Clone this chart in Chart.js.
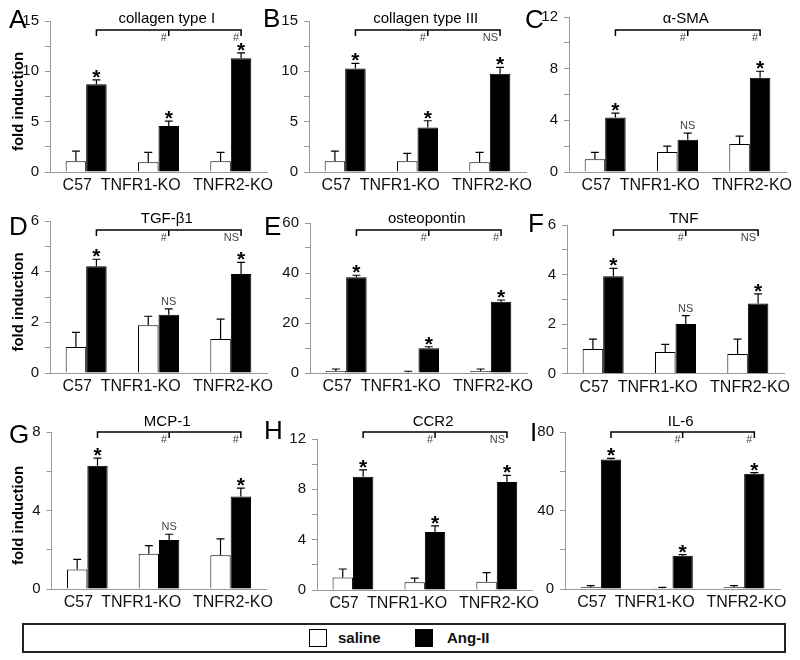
<!DOCTYPE html>
<html>
<head>
<meta charset="utf-8">
<script src="https://cdn.jsdelivr.net/npm/chart.js@4/dist/chart.umd.min.js"></script>
<style>
  body { margin: 0; background: #fff; width: 800px; height: 660px; position: relative; overflow: hidden;
         font-family: "Liberation Sans", Arial, sans-serif; }
  canvas { position: absolute; }
  #legend { position: absolute; left: 22px; top: 623px; width: 764px; height: 30px;
            border: 2px solid #222; box-sizing: border-box; }
  .sw { position: absolute; top: 4px; width: 18px; height: 18px; box-sizing: border-box; border: 1.5px solid #000; }
  .lt { position: absolute; top: 4px; line-height: 18px; font-size: 15px; font-weight: bold; color: #111; }
</style>
</head>
<body>
<div id="legend">
  <div class="sw" style="left:285px;background:#fff"></div>
  <div class="lt" style="left:314px">saline</div>
  <div class="sw" style="left:391px;background:#000"></div>
  <div class="lt" style="left:423px">Ang-II</div>
</div>
<script>
// groups on the x axis
const categories = ['C57', 'TNFR1-KO', 'TNFR2-KO'];

// A - collagen type I
const collagenISaline = [1.06, 0.96, 1.06];
const collagenISalineErr = [1.02, 0.99, 0.89];
const collagenIAngII = [8.72, 4.56, 11.3];
const collagenIAngIIErr = [0.43, 0.49, 0.53];
const collagenIMarks = ['*', '*', '*'];
const collagenICompare = ['#', '#'];
const collagenITicks = [0, 5, 10, 15];

// B - collagen type III
const collagenIIISaline = [1.06, 1.06, 0.96];
const collagenIIISalineErr = [1.02, 0.79, 0.99];
const collagenIIIAngII = [10.27, 4.43, 9.75];
const collagenIIIAngIIErr = [0.53, 0.66, 0.65];
const collagenIIIMarks = ['*', '*', '*'];
const collagenIIICompare = ['#', 'NS'];
const collagenIIITicks = [0, 5, 10, 15];

// C - alpha-SMA
const smaSaline = [0.98, 1.55, 2.16];
const smaSalineErr = [0.54, 0.45, 0.62];
const smaAngII = [4.22, 2.5, 7.29];
const smaAngIIErr = [0.34, 0.51, 0.51];
const smaMarks = ['*', 'NS', '*'];
const smaCompare = ['#', '#'];
const smaTicks = [0, 4, 8, 12];

// D - TGF-beta1
const tgfSaline = [1.03, 1.88, 1.34];
const tgfSalineErr = [0.57, 0.36, 0.79];
const tgfAngII = [4.21, 2.3, 3.91];
const tgfAngIIErr = [0.28, 0.23, 0.46];
const tgfMarks = ['*', 'NS', '*'];
const tgfCompare = ['#', 'NS'];
const tgfTicks = [0, 2, 4, 6];

// E - osteopontin
const opnSaline = [0.8, 0.27, 0.8];
const opnSalineErr = [0.8, 0.43, 0.8];
const opnAngII = [38.3, 9.87, 28.5];
const opnAngIIErr = [0.8, 0.63, 0.7];
const opnMarks = ['*', '*', '*'];
const opnCompare = ['#', '#'];
const opnTicks = [0, 20, 40, 60];

// F - TNF
const tnfSaline = [0.99, 0.87, 0.79];
const tnfSalineErr = [0.4, 0.31, 0.6];
const tnfAngII = [3.93, 2.0, 2.83];
const tnfAngIIErr = [0.32, 0.34, 0.39];
const tnfMarks = ['*', 'NS', '*'];
const tnfCompare = ['#', 'NS'];
const tnfTicks = [0, 2, 4, 6];

// G - MCP-1
const mcpSaline = [1.0, 1.79, 1.72];
const mcpSalineErr = [0.51, 0.42, 0.83];
const mcpAngII = [6.28, 2.5, 4.71];
const mcpAngIIErr = [0.39, 0.29, 0.43];
const mcpMarks = ['*', 'NS', '*'];
const mcpCompare = ['#', '#'];
const mcpTicks = [0, 4, 8];

// H - CCR2
const ccrSaline = [1.0, 0.61, 0.66];
const ccrSalineErr = [0.67, 0.34, 0.72];
const ccrAngII = [9.0, 4.6, 8.58];
const ccrAngIIErr = [0.54, 0.49, 0.53];
const ccrMarks = ['*', '*', '*'];
const ccrCompare = ['#', 'NS'];
const ccrTicks = [0, 4, 8, 12];

// I - IL-6
const il6Saline = [0.85, 0.34, 0.85];
const il6SalineErr = [0.85, 0.51, 0.85];
const il6AngII = [66.0, 17.0, 58.7];
const il6AngIIErr = [0.6, 0.5, 0.6];
const il6Marks = ['*', '*', '*'];
const il6Compare = ['#', '#'];
const il6Ticks = [0, 40, 80];

const FONT = '"Liberation Sans", Arial, sans-serif';
Chart.defaults.font.family = FONT;

// cell = canvas box on the page, ax/len/ty/by = plot area on the page
const panels = [
  { letter: 'A', title: 'collagen type I', lx: 9, ly: 28, titleY: 19, brY: 30, yTitle: true,
    cell: { x: 0, y: 0, w: 290, h: 200 }, ax: 50, len: 217, ty: 21, by: 172,
    s: collagenISaline, se: collagenISalineErr, a: collagenIAngII, ae: collagenIAngIIErr,
    marks: collagenIMarks, cmp: collagenICompare, ticks: collagenITicks },
  { letter: 'B', title: 'collagen type III', lx: 263, ly: 27, titleY: 19, brY: 30,
    cell: { x: 255, y: 0, w: 290, h: 200 }, ax: 309, len: 217, ty: 21, by: 172,
    s: collagenIIISaline, se: collagenIIISalineErr, a: collagenIIIAngII, ae: collagenIIIAngIIErr,
    marks: collagenIIIMarks, cmp: collagenIIICompare, ticks: collagenIIITicks },
  { letter: 'C', title: 'α-SMA', lx: 525, ly: 28, titleY: 19, brY: 30,
    cell: { x: 520, y: 0, w: 280, h: 200 }, ax: 569, len: 217, ty: 17, by: 172,
    s: smaSaline, se: smaSalineErr, a: smaAngII, ae: smaAngIIErr,
    marks: smaMarks, cmp: smaCompare, ticks: smaTicks },
  { letter: 'D', title: 'TGF-β1', lx: 9, ly: 235, titleY: 219, brY: 230, yTitle: true,
    cell: { x: 0, y: 196, w: 290, h: 206 }, ax: 50, len: 217, ty: 221, by: 373,
    s: tgfSaline, se: tgfSalineErr, a: tgfAngII, ae: tgfAngIIErr,
    marks: tgfMarks, cmp: tgfCompare, ticks: tgfTicks },
  { letter: 'E', title: 'osteopontin', lx: 264, ly: 235, titleY: 219, brY: 230,
    cell: { x: 255, y: 196, w: 290, h: 206 }, ax: 310, len: 217, ty: 223, by: 373,
    s: opnSaline, se: opnSalineErr, a: opnAngII, ae: opnAngIIErr,
    marks: opnMarks, cmp: opnCompare, ticks: opnTicks },
  { letter: 'F', title: 'TNF', lx: 528, ly: 232, titleY: 219, brY: 230,
    cell: { x: 520, y: 196, w: 280, h: 206 }, ax: 567, len: 217, ty: 225, by: 373.5,
    s: tnfSaline, se: tnfSalineErr, a: tnfAngII, ae: tnfAngIIErr,
    marks: tnfMarks, cmp: tnfCompare, ticks: tnfTicks },
  { letter: 'G', title: 'MCP-1', lx: 9, ly: 443, titleY: 422, brY: 432, yTitle: true,
    cell: { x: 0, y: 398, w: 290, h: 222 }, ax: 51.5, len: 215, ty: 432, by: 589,
    s: mcpSaline, se: mcpSalineErr, a: mcpAngII, ae: mcpAngIIErr,
    marks: mcpMarks, cmp: mcpCompare, ticks: mcpTicks },
  { letter: 'H', title: 'CCR2', lx: 264, ly: 439, titleY: 422, brY: 432,
    cell: { x: 255, y: 398, w: 290, h: 222 }, ax: 317, len: 216, ty: 439, by: 590,
    s: ccrSaline, se: ccrSalineErr, a: ccrAngII, ae: ccrAngIIErr,
    marks: ccrMarks, cmp: ccrCompare, ticks: ccrTicks },
  { letter: 'I', title: 'IL-6', lx: 530, ly: 441, titleY: 422, brY: 432,
    cell: { x: 520, y: 398, w: 280, h: 222 }, ax: 565, len: 215, ty: 432, by: 589,
    s: il6Saline, se: il6SalineErr, a: il6AngII, ae: il6AngIIErr,
    marks: il6Marks, cmp: il6Compare, ticks: il6Ticks }
];

// error bars, stars, brackets, titles
const annotate = {
  id: 'annotate',
  afterDraw(chart, args, opts) {
    const p = opts.panel, c = p.cell;
    const ctx = chart.ctx, y = chart.scales.y;
    ctx.save();
    ctx.strokeStyle = '#000';
    ctx.lineWidth = 1.2;
    chart.data.datasets.forEach((ds, di) => {
      chart.getDatasetMeta(di).data.forEach((bar, i) => {
        const top = y.getPixelForValue(ds.data[i] + ds.err[i]);
        ctx.beginPath();
        ctx.moveTo(bar.x, bar.y);
        ctx.lineTo(bar.x, top);
        ctx.moveTo(bar.x - 4, top);
        ctx.lineTo(bar.x + 4, top);
        ctx.stroke();
      });
    });

    const ang = chart.getDatasetMeta(1).data;
    const angDs = chart.data.datasets[1];
    ctx.textAlign = 'center';
    ctx.textBaseline = 'alphabetic';
    ang.forEach((bar, i) => {
      const top = y.getPixelForValue(angDs.data[i] + angDs.err[i]);
      if (p.marks[i] === '*') {
        ctx.fillStyle = '#000';
        ctx.font = 'bold 21px ' + FONT;
        ctx.fillText('*', bar.x, top + 4);
      } else {
        ctx.fillStyle = '#444';
        ctx.font = '11px ' + FONT;
        ctx.fillText(p.marks[i], bar.x, top - 4);
      }
    });

    // bracket
    const xs = ang.map(b => b.x);
    const by = p.brY - c.y;
    ctx.lineWidth = 1.5;
    ctx.beginPath();
    ctx.moveTo(xs[0], by + 6); ctx.lineTo(xs[0], by);
    ctx.lineTo(xs[2], by); ctx.lineTo(xs[2], by + 6);
    ctx.moveTo(xs[1], by); ctx.lineTo(xs[1], by + 6);
    ctx.stroke();
    ctx.fillStyle = '#444';
    ctx.font = '11px ' + FONT;
    ctx.textAlign = 'right';
    ctx.fillText(p.cmp[0], xs[1] - 2, by + 11);
    ctx.fillText(p.cmp[1], xs[2] - 2, by + 11);

    // title and letter
    ctx.fillStyle = '#000';
    ctx.textAlign = 'center';
    ctx.textBaseline = 'middle';
    ctx.font = '15px ' + FONT;
    ctx.fillText(p.title, xs[1] - 2, p.titleY - c.y);
    ctx.textAlign = 'left';
    ctx.textBaseline = 'alphabetic';
    ctx.font = '26px ' + FONT;
    ctx.fillText(p.letter, p.lx - c.x, p.ly - c.y);

    if (p.yTitle) {
      ctx.save();
      ctx.translate(18.5 - c.x, (p.ty + p.by) / 2 + 5 - c.y);
      ctx.rotate(-Math.PI / 2);
      ctx.textAlign = 'center';
      ctx.textBaseline = 'middle';
      ctx.font = 'bold 15px ' + FONT;
      ctx.fillText('fold induction', 0, 0);
      ctx.restore();
    }
    ctx.restore();
  }
};

// category labels sit a little left of their bars in the original
const labelPad = ['C57    ', 'TNFR1-KO        ', ' TNFR2-KO'];

panels.forEach(p => {
  const c = p.cell;
  const canvas = document.createElement('canvas');
  canvas.width = c.w;
  canvas.height = c.h;
  canvas.style.left = c.x + 'px';
  canvas.style.top = c.y + 'px';
  document.body.appendChild(canvas);

  const yMax = p.ticks[p.ticks.length - 1];
  const labelStep = p.ticks[1] - p.ticks[0];

  new Chart(canvas, {
    type: 'bar',
    data: {
      labels: categories,
      datasets: [
        { label: 'saline', data: p.s, err: p.se, backgroundColor: '#fff', borderColor: '#000', borderWidth: 1,
          barPercentage: 1.0, categoryPercentage: 0.567 },
        { label: 'Ang-II', data: p.a, err: p.ae, backgroundColor: '#000', borderColor: '#000', borderWidth: 1,
          barPercentage: 1.0, categoryPercentage: 0.567 }
      ]
    },
    options: {
      responsive: false,
      animation: false,
      layout: {
        padding: { left: 0, top: p.ty - c.y, right: c.w - (p.ax + p.len - c.x), bottom: 0 }
      },
      plugins: {
        legend: { display: false },
        tooltip: { enabled: false },
        annotate: { panel: p }
      },
      scales: {
        x: {
          grid: { display: false, drawTicks: false },
          border: { color: '#999', width: 1 },
          ticks: {
            color: '#111', font: { size: 16 }, padding: 4, maxRotation: 0, autoSkip: false,
            callback: (v, i) => labelPad[i]
          },
          afterFit: s => { s.height = c.h - (p.by - c.y); }
        },
        y: {
          min: 0,
          max: yMax,
          grid: { drawOnChartArea: false, drawTicks: true, tickLength: 5, color: '#999' },
          border: { color: '#999', width: 1 },
          ticks: {
            stepSize: labelStep / 2,
            color: '#111',
            font: { size: 15 },
            padding: 6,
            callback: v => p.ticks.includes(v) ? String(v) : ''
          },
          afterFit: s => { s.width = p.ax - c.x; }
        }
      }
    },
    plugins: [annotate]
  });
});
</script>
</body>
</html>
